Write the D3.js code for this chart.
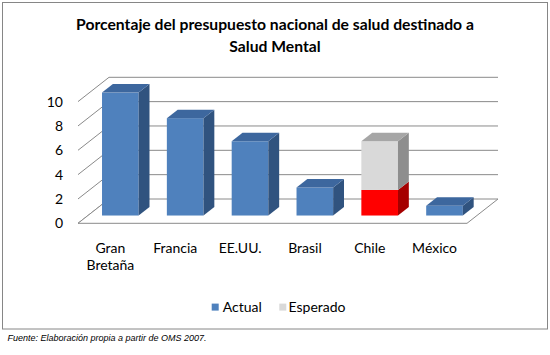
<!DOCTYPE html>
<html><head><meta charset="utf-8">
<script src="https://cdn.jsdelivr.net/npm/d3@7"></script>
<style>body{margin:0;background:#fff}</style>
</head><body><svg id="c" width="550" height="355"></svg>
<script>
const categories = ["Gran Bretaña","Francia","EE.UU.","Brasil","Chile","México"];
const actual = [10.1, 8.0, 6.1, 2.3, 2.1, 0.8];
const esperado = [0, 0, 0, 0, 4.0, 0];
const yTicks = [0,2,4,6,8,10];
const seriesNames = ["Actual","Esperado"];
const titleLines = ["Porcentaje del presupuesto nacional de salud destinado a","Salud Mental"];
const footnote = "Fuente: Elaboración propia a partir de OMS 2007.";
const highlighted = "Chile";

const svg = d3.select("#c");
const FONT = "Lato, Calibri, sans-serif";
const GRID = "#8a8a8a";
const blue = {front:"#4F81BD", top:"#3D679E", side:"#30537F"};
const red = {front:"#FF0000", top:"#C00000", side:"#A50000"};
const grey = {front:"#D9D9D9", top:"#A6A6A6", side:"#8E8E8E"};

// frame
svg.append("rect").attr("x",2.5).attr("y",2.5).attr("width",545).attr("height",326.5)
  .attr("fill","#fff").attr("stroke","#868686").attr("stroke-width",1);

// title
svg.append("text").attr("x",275).attr("y",30).attr("text-anchor","middle")
  .attr("font-family",FONT).attr("font-weight","bold").attr("font-size",15.7).attr("fill","#000")
  .selectAll("tspan").data(titleLines).join("tspan")
  .attr("x",275).attr("dy",(d,i)=>i?22:0).text(d=>d);

// scales
const x0 = 78, x1 = 467;
const D = {x:31, y:-24.3};
const x = d3.scaleBand().domain(categories).range([x0,x1]).paddingInner(0.435).paddingOuter(0.2175);
const y = d3.scaleLinear().domain([0,10]).range([223.3,101.6]);

// back wall gridlines & side wall diagonals
const g = svg.append("g");
yTicks.forEach(t=>{
  if (t>0) g.append("line").attr("x1",x0+D.x).attr("x2",x1+D.x).attr("y1",y(t)+D.y).attr("y2",y(t)+D.y)
    .attr("stroke",GRID).attr("stroke-width",1);
  g.append("line").attr("x1",x0).attr("y1",y(t)).attr("x2",x0+D.x).attr("y2",y(t)+D.y)
    .attr("stroke",GRID).attr("stroke-width",1);
});
// floor
g.append("polygon").attr("points",[[x0,y(0)],[x1,y(0)],[x1+D.x,y(0)+D.y],[x0+D.x,y(0)+D.y]].map(p=>p.join(",")).join(" "))
  .attr("fill","#fff").attr("stroke",GRID).attr("stroke-width",1);

// y tick labels
svg.append("g").selectAll("text").data(yTicks).join("text")
  .attr("x",63).attr("y",d=>y(d)).attr("dy","0.35em").attr("text-anchor","end")
  .attr("font-family",FONT).attr("font-size",14).attr("fill","#000").text(d=>d);

// bars
const f0 = 0.32, fd = 0.35;
const off = {x:D.x*f0, y:D.y*f0};
const dep = {x:D.x*fd, y:D.y*fd};
const bw = x.bandwidth();
function box(gg, bx, yTop, yBot, c, showTop){
  gg.append("rect").attr("x",bx).attr("y",yTop).attr("width",bw).attr("height",yBot-yTop).attr("fill",c.front);
  gg.append("polygon").attr("points",[[bx+bw,yTop],[bx+bw+dep.x,yTop+dep.y],[bx+bw+dep.x,yBot+dep.y],[bx+bw,yBot]].map(p=>p.join(",")).join(" ")).attr("fill",c.side);
  if (showTop) gg.append("polygon").attr("points",[[bx,yTop],[bx+dep.x,yTop+dep.y],[bx+bw+dep.x,yTop+dep.y],[bx+bw,yTop]].map(p=>p.join(",")).join(" ")).attr("fill",c.top);
}
const bars = svg.append("g");
categories.forEach((c,i)=>{
  const bx = x(c)+off.x;
  const a = actual[i], e = esperado[i];
  const ca = c===highlighted ? red : blue;
  box(bars, bx, y(a)+off.y, y(0)+off.y, ca, e===0);
  if (e>0) box(bars, bx, y(a+e)+off.y, y(a)+off.y, grey, true);
});

// x labels
const xl = svg.append("g");
categories.forEach(c=>{
  const words = c.split(" ");
  const t = xl.append("text").attr("text-anchor","middle").attr("font-family",FONT).attr("font-size",14).attr("fill","#000");
  words.forEach((w,j)=>t.append("tspan").attr("x",x(c)+bw/2).attr("y",252.7+j*17.3).text(w));
});

// legend
const leg = [{name:seriesNames[0], color:blue.front, sx:211.7, tx:222.7},{name:seriesNames[1], color:grey.front, sx:279.3, tx:288.5}];
const lg = svg.append("g");
leg.forEach(l=>{
  lg.append("rect").attr("x",l.sx).attr("y",303.6).attr("width",7).attr("height",7).attr("fill",l.color);
  lg.append("text").attr("x",l.tx).attr("y",311.7).attr("font-family",FONT).attr("font-size",14).attr("fill","#000").text(l.name);
});

// footnote
svg.append("text").attr("x",7.5).attr("y",341).attr("font-family","'Liberation Sans', Arial, sans-serif")
  .attr("font-style","italic").attr("font-size",9).attr("fill","#000").text(footnote);
</script></body></html>
